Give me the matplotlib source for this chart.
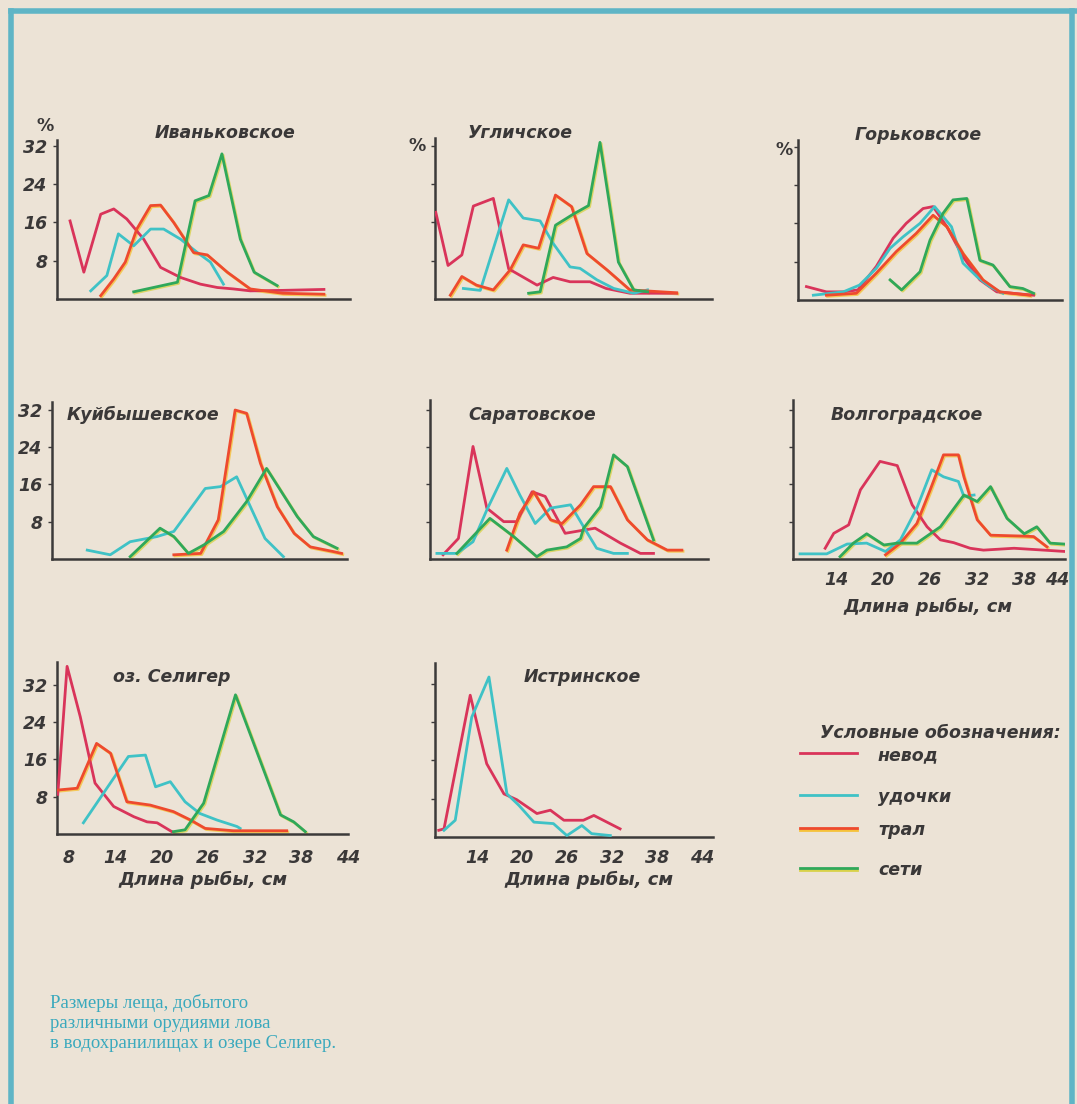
import matplotlib
matplotlib.use("Agg")
import matplotlib.pyplot as plt
from matplotlib.lines import Line2D

W, H = 1077, 1104
BG = "#ece3d6"
FRAME = "#5fb5c6"
AX = "#3c3a3a"
TXT = "#3a3838"

C_NEVOD = "#d9345a"
C_UDOCHKI = "#3fc2c6"
C_TRAL = "#ee4a2e"
C_SETI = "#2fa85a"

# ---------------- data (length, cm ; share, %) ----------------
# Иваньковское
ivan_nevod_x = [8.3, 10.1, 12.3, 14.0, 15.7, 17.9, 20.1, 22.7, 25.3, 27.5, 29.6, 31.8, 36.0, 41.4]
ivan_nevod_y = [16.3, 5.6, 17.7, 18.8, 16.7, 12.5, 6.6, 4.5, 3.1, 2.4, 2.1, 1.7, 1.8, 2.0]
ivan_udochki_x = [11.0, 13.1, 14.6, 16.6, 18.8, 20.5, 22.7, 24.9, 26.6, 28.3]
ivan_udochki_y = [1.7, 4.9, 13.6, 11.1, 14.6, 14.6, 12.5, 9.7, 7.7, 3.1]
ivan_tral_x = [12.3, 14.0, 15.5, 17.0, 18.8, 20.1, 21.8, 24.4, 26.2, 28.8, 31.8, 36.0, 41.4]
ivan_tral_y = [0.7, 4.2, 7.7, 14.6, 19.5, 19.6, 16.0, 9.7, 9.2, 5.6, 2.1, 1.2, 1.0]
ivan_seti_x = [16.6, 22.3, 24.6, 26.4, 28.1, 30.5, 32.3, 35.3]
ivan_seti_y = [1.5, 3.5, 20.5, 21.6, 30.3, 12.5, 5.6, 2.8]

# Угличское
ugl_nevod_x = [6.7, 8.3, 10.1, 11.6, 14.2, 16.2, 19.9, 22.0, 24.2, 26.8, 28.9, 32.0, 38.1]
ugl_nevod_y = [18.1, 7.0, 9.2, 19.4, 21.0, 6.3, 2.9, 4.5, 3.6, 3.6, 2.2, 1.2, 1.2]
ugl_udochki_x = [10.3, 12.5, 16.2, 18.1, 20.3, 22.0, 24.2, 25.5, 27.7, 29.9, 32.5, 34.3]
ugl_udochki_y = [2.2, 1.8, 20.7, 16.9, 16.3, 11.6, 6.7, 6.4, 4.0, 2.2, 1.2, 1.9]
ugl_tral_x = [8.6, 10.1, 12.0, 14.2, 16.4, 18.1, 20.1, 22.3, 24.4, 26.4, 29.0, 32.0, 38.1]
ugl_tral_y = [0.8, 4.7, 2.9, 1.9, 6.1, 11.3, 10.6, 21.7, 19.3, 9.5, 6.1, 1.9, 1.3]
ugl_seti_x = [18.8, 20.3, 22.3, 24.6, 26.6, 28.1, 30.5, 32.5, 34.3]
ugl_seti_y = [1.2, 1.5, 15.4, 17.7, 19.5, 32.7, 7.7, 1.9, 1.5]

# Горьковское
gor_nevod_x = [7.7, 10.3, 12.5, 14.4, 16.8, 19.0, 20.7, 22.9, 24.2, 26.0, 28.1, 30.3, 32.5, 34.6, 37.3]
gor_nevod_y = [2.8, 1.7, 1.7, 2.1, 7.0, 12.9, 16.0, 19.1, 19.5, 15.3, 9.0, 4.2, 1.7, 1.4, 1.0]
gor_udochki_x = [8.6, 12.5, 14.6, 16.8, 18.6, 20.3, 22.5, 24.4, 26.6, 28.1, 29.9, 31.6, 33.3]
gor_udochki_y = [1.0, 1.7, 3.1, 6.6, 10.8, 13.2, 16.0, 19.5, 15.3, 7.7, 4.9, 2.8, 1.4]
gor_tral_x = [10.3, 14.2, 16.8, 19.4, 22.0, 24.2, 26.0, 28.1, 30.7, 32.9, 36.8]
gor_tral_y = [1.0, 1.4, 5.6, 10.1, 13.9, 17.7, 15.3, 9.7, 4.2, 1.7, 1.0]
gor_seti_x = [18.6, 20.1, 22.5, 23.8, 25.5, 26.8, 28.6, 30.3, 32.0, 34.2, 35.9, 37.3]
gor_seti_y = [4.2, 2.1, 5.9, 12.5, 18.1, 20.9, 21.2, 8.3, 7.3, 2.8, 2.4, 1.4]

# Куйбышевское
kuj_udochki_x = [11.2, 14.2, 16.8, 20.3, 22.5, 26.6, 28.6, 30.7, 34.4, 36.8]
kuj_udochki_y = [1.9, 0.9, 3.7, 4.8, 5.9, 15.1, 15.5, 17.6, 4.4, 0.5]
kuj_tral_x = [22.5, 26.0, 28.3, 30.5, 32.0, 33.8, 36.0, 38.2, 40.3, 43.3, 44.4]
kuj_tral_y = [0.9, 1.2, 8.4, 31.9, 31.2, 20.5, 11.2, 5.5, 2.6, 1.6, 1.2]
kuj_seti_x = [16.8, 20.7, 22.5, 24.4, 26.4, 29.0, 32.0, 34.6, 38.6, 40.7, 43.8]
kuj_seti_y = [0.5, 6.6, 4.8, 1.2, 3.0, 5.9, 12.3, 19.4, 9.1, 4.8, 2.3]

# Саратовское
sar_nevod_x = [8.3, 10.3, 12.2, 14.0, 16.2, 17.9, 19.9, 21.6, 24.2, 28.1, 31.4, 34.0, 35.7]
sar_nevod_y = [0.9, 4.4, 24.1, 10.9, 8.0, 8.0, 14.4, 13.4, 5.5, 6.6, 3.4, 1.2, 1.2]
sar_udochki_x = [7.5, 10.1, 12.2, 14.0, 16.6, 18.3, 20.3, 22.3, 24.9, 26.6, 28.3, 30.5, 32.3]
sar_udochki_y = [1.2, 1.2, 3.7, 10.5, 19.4, 13.7, 7.6, 10.9, 11.6, 6.9, 2.3, 1.2, 1.2]
sar_tral_x = [16.6, 18.3, 20.1, 22.3, 23.8, 26.2, 27.9, 30.1, 32.3, 34.9, 37.5, 39.4]
sar_tral_y = [1.9, 9.8, 14.4, 8.4, 7.6, 11.6, 15.5, 15.5, 8.4, 4.1, 1.9, 1.9]
sar_seti_x = [10.1, 14.4, 17.5, 20.5, 21.8, 24.4, 26.2, 26.6, 28.8, 30.5, 32.3, 35.7]
sar_seti_y = [1.2, 8.7, 4.8, 0.5, 1.9, 2.6, 4.4, 6.6, 11.2, 22.3, 19.8, 4.1]

# Волгоградское
vol_nevod_x = [12.6, 13.7, 15.6, 17.1, 19.6, 21.8, 23.7, 25.6, 27.3, 29.0, 31.1, 32.8, 36.7, 40.5, 43.3]
vol_nevod_y = [2.3, 5.5, 7.3, 14.8, 20.9, 20.0, 11.6, 6.9, 4.1, 3.5, 2.3, 1.9, 2.3, 1.9, 1.6]
vol_udochki_x = [9.4, 12.8, 15.4, 17.9, 20.3, 22.2, 24.3, 26.2, 27.7, 29.6, 30.3, 31.6]
vol_udochki_y = [1.1, 1.1, 3.2, 3.4, 1.6, 4.1, 10.9, 19.1, 17.6, 16.6, 13.4, 13.7]
vol_tral_x = [20.3, 22.2, 24.3, 26.0, 27.7, 29.6, 30.3, 32.0, 33.7, 38.0, 39.2, 40.9]
vol_tral_y = [0.9, 3.4, 7.6, 14.8, 22.3, 22.3, 17.6, 8.4, 5.1, 4.9, 4.8, 2.6]
vol_seti_x = [14.5, 16.2, 17.9, 20.1, 21.8, 24.3, 27.3, 30.3, 32.0, 33.7, 35.8, 38.0, 39.6, 41.3, 43.1]
vol_seti_y = [0.5, 3.4, 5.4, 3.0, 3.4, 3.4, 6.9, 13.7, 12.3, 15.5, 8.7, 5.4, 6.9, 3.4, 3.2]

# оз. Селигер
sel_nevod_x = [6.6, 7.8, 9.5, 11.4, 13.8, 16.4, 18.1, 19.4, 21.3]
sel_nevod_y = [8.5, 35.9, 25.1, 10.9, 5.9, 3.7, 2.6, 2.4, 0.5]
sel_udochki_x = [9.9, 15.7, 17.9, 19.2, 21.1, 23.0, 24.9, 27.1, 29.7, 30.1]
sel_udochki_y = [2.4, 16.6, 16.9, 10.1, 11.2, 6.9, 4.4, 3.0, 1.6, 1.2]
sel_tral_x = [6.5, 9.1, 11.6, 13.4, 15.5, 18.5, 21.5, 23.7, 25.6, 29.2, 36.1]
sel_tral_y = [9.4, 9.8, 19.4, 17.3, 6.9, 6.2, 4.8, 3.0, 1.2, 0.7, 0.7]
sel_seti_x = [21.5, 23.0, 25.4, 29.5, 35.3, 37.0, 38.5]
sel_seti_y = [0.5, 0.9, 6.6, 29.8, 4.1, 2.6, 0.5]

# Истринское
ist_nevod_x = [8.9, 9.6, 13.1, 15.3, 17.6, 19.3, 22.0, 23.8, 25.6, 28.2, 29.6, 33.1]
ist_nevod_y = [1.4, 1.7, 29.6, 15.3, 9.0, 7.8, 4.9, 5.6, 3.5, 3.5, 4.5, 1.7]
ist_udochki_x = [9.6, 11.1, 13.3, 15.6, 18.0, 19.6, 21.6, 24.2, 26.0, 28.0, 29.3, 31.8]
ist_udochki_y = [1.4, 3.5, 25.0, 33.4, 9.0, 6.6, 3.1, 2.8, 0.3, 2.4, 0.7, 0.3]

y_ticks = [8, 16, 24, 32]
x_ticks = [8, 14, 20, 26, 32, 38, 44]
x_tick_labels = ["8", "14", "20", "26", "32", "38", "44"]

titles = ["Иваньковское", "Угличское", "Горьковское", "Куйбышевское",
          "Саратовское", "Волгоградское", "оз. Селигер", "Истринское"]
legend_title = "Условные обозначения:"
legend_labels = ["невод", "удочки", "трал", "сети"]
x_label = "Длина рыбы, см"

panels = [
    dict(name=titles[0], box=(57, 299, 350, 140), xlim=(6.6, 44.8), ppu=4.79,
         series=[(ivan_nevod_x, ivan_nevod_y, "nevod"), (ivan_udochki_x, ivan_udochki_y, "udochki"),
                 (ivan_tral_x, ivan_tral_y, "tral"), (ivan_seti_x, ivan_seti_y, "seti")],
         ylab=True, pct=(45, 126), tpos=(225, 133), xt=None),
    dict(name=titles[1], box=(435, 299, 712, 138), xlim=(6.6, 42.7), ppu=4.79,
         series=[(ugl_nevod_x, ugl_nevod_y, "nevod"), (ugl_udochki_x, ugl_udochki_y, "udochki"),
                 (ugl_tral_x, ugl_tral_y, "tral"), (ugl_seti_x, ugl_seti_y, "seti")],
         ylab=False, pct=(417, 146), tpos=(520, 133), xt=None),
    dict(name=titles[2], box=(798, 300, 1062, 140), xlim=(6.6, 41.0), ppu=4.79,
         series=[(gor_nevod_x, gor_nevod_y, "nevod"), (gor_udochki_x, gor_udochki_y, "udochki"),
                 (gor_tral_x, gor_tral_y, "tral"), (gor_seti_x, gor_seti_y, "seti")],
         ylab=False, pct=(784, 150), tpos=(918, 135), xt=None),
    dict(name=titles[3], box=(52, 559, 347, 402), xlim=(6.6, 45.1), ppu=4.67,
         series=[(kuj_udochki_x, kuj_udochki_y, "udochki"),
                 (kuj_tral_x, kuj_tral_y, "tral"), (kuj_seti_x, kuj_seti_y, "seti")],
         ylab=True, pct=None, tpos=(143, 415), xt=None),
    dict(name=titles[4], box=(430, 559, 708, 400), xlim=(6.6, 42.8), ppu=4.67,
         series=[(sar_nevod_x, sar_nevod_y, "nevod"), (sar_udochki_x, sar_udochki_y, "udochki"),
                 (sar_tral_x, sar_tral_y, "tral"), (sar_seti_x, sar_seti_y, "seti")],
         ylab=False, pct=None, tpos=(532, 415), xt=None),
    dict(name=titles[5], box=(793, 559, 1065, 400), xlim=(8.5, 43.2), ppu=4.67,
         series=[(vol_nevod_x, vol_nevod_y, "nevod"), (vol_udochki_x, vol_udochki_y, "udochki"),
                 (vol_tral_x, vol_tral_y, "tral"), (vol_seti_x, vol_seti_y, "seti")],
         ylab=False, pct=None, tpos=(907, 415), xt=(1, 580, 607, 928)),
    dict(name=titles[6], box=(57, 834, 348, 662), xlim=(6.5, 44.0), ppu=4.67,
         series=[(sel_nevod_x, sel_nevod_y, "nevod"), (sel_udochki_x, sel_udochki_y, "udochki"),
                 (sel_tral_x, sel_tral_y, "tral"), (sel_seti_x, sel_seti_y, "seti")],
         ylab=True, pct=None, tpos=(172, 677), xt=(0, 858, 880, 203)),
    dict(name=titles[7], box=(435, 837, 713, 663), xlim=(8.4, 45.5), ppu=4.79,
         series=[(ist_nevod_x, ist_nevod_y, "nevod"), (ist_udochki_x, ist_udochki_y, "udochki")],
         ylab=False, pct=None, tpos=(582, 677), xt=(1, 858, 880, 589)),
]

styles = {
    "nevod": dict(color=C_NEVOD, shadow=None),
    "udochki": dict(color=C_UDOCHKI, shadow=None),
    "tral": dict(color=C_TRAL, shadow="#f6c23a"),
    "seti": dict(color=C_SETI, shadow="#d8d24a"),
}

fig = plt.figure(figsize=(W / 100, H / 100), dpi=100)
fig.patch.set_facecolor(BG)

TFONT = dict(family="DejaVu Sans", style="italic", weight="bold")


def fx(px):
    return px / W


def fy(py):
    return 1 - py / H


for p in panels:
    left, base, right, top = p["box"]
    ylim_top = (base - top) / p["ppu"]
    ax = fig.add_axes([fx(left), fy(base), (right - left) / W, (base - top) / H])
    ax.set_facecolor("none")
    ax.set_xlim(*p["xlim"])
    ax.set_ylim(0, ylim_top)
    for s in ["top", "right"]:
        ax.spines[s].set_visible(False)
    for s in ["left", "bottom"]:
        ax.spines[s].set_color(AX)
        ax.spines[s].set_linewidth(1.8)
    for xs, ys, kind in p["series"]:
        st = styles[kind]
        if st["shadow"]:
            ax.plot([x + 0.15 for x in xs], [y - 0.25 for y in ys], color=st["shadow"],
                    lw=2.0, solid_joinstyle="round", alpha=0.8, zorder=2)
        ax.plot(xs, ys, color=st["color"], lw=2.0, solid_joinstyle="round", zorder=3)
    ax.set_yticks(y_ticks)
    ax.tick_params(axis="y", length=3, width=1, color=AX, direction="out", pad=4)
    if p["ylab"]:
        ax.set_yticklabels([str(t) for t in y_ticks], fontsize=12.5, color=TXT,
                           style="italic", weight="bold")
    else:
        ax.set_yticklabels([])
    ax.set_xticks([])
    if p["xt"] is not None:
        start, ly, xly, xlx = p["xt"]
        for t, lab in zip(x_ticks[start:], x_tick_labels[start:]):
            xpix = left + (t - p["xlim"][0]) / (p["xlim"][1] - p["xlim"][0]) * (right - left)
            xpix = min(xpix, W - 20)
            fig.text(fx(xpix), fy(ly), lab, ha="center", va="center", fontsize=12.5,
                     color=TXT, **TFONT)
        fig.text(fx(xlx), fy(xly), x_label, ha="center",
                 va="center", fontsize=13, color=TXT, **TFONT)
    if p["pct"] is not None:
        fig.text(fx(p["pct"][0]), fy(p["pct"][1]), "%", ha="center", va="center",
                 fontsize=12.5, color=TXT, weight="bold")
    fig.text(fx(p["tpos"][0]), fy(p["tpos"][1]), p["name"], ha="center", va="center",
             fontsize=12.5, color=TXT, **TFONT)

# legend
fig.text(fx(940), fy(733), legend_title, ha="center", va="center",
         fontsize=12.5, color=TXT, **TFONT)
leg_y = [753, 795, 828, 868]
leg_kinds = ["nevod", "udochki", "tral", "seti"]
for yy, kind, lab in zip(leg_y, leg_kinds, legend_labels):
    st = styles[kind]
    if st["shadow"]:
        fig.add_artist(Line2D([fx(800), fx(857)], [fy(yy + 2), fy(yy + 2)],
                              color=st["shadow"], lw=2.0, transform=fig.transFigure))
    fig.add_artist(Line2D([fx(800), fx(857)], [fy(yy), fy(yy)], color=st["color"],
                          lw=2.0, transform=fig.transFigure))
    fig.text(fx(878), fy(yy + 2), lab, ha="left", va="center", fontsize=12.5,
             color=TXT, **TFONT)

# caption
caption = ["Размеры леща, добытого", "различными орудиями лова",
           "в водохранилищах и озере Селигер."]
for i, line in enumerate(caption):
    fig.text(fx(50), fy(1003 + i * 20), line, ha="left", va="center", fontsize=13.5,
             color="#3aa9bd", family="Liberation Serif")

# frame
fig.add_artist(Line2D([fx(11), fx(11)], [fy(1104), fy(11)], color=FRAME, lw=4,
                      transform=fig.transFigure))
fig.add_artist(Line2D([fx(11), fx(1077)], [fy(11), fy(11)], color=FRAME, lw=4,
                      transform=fig.transFigure))
fig.add_artist(Line2D([fx(1072), fx(1072)], [fy(11), fy(1104)], color=FRAME, lw=4,
                      transform=fig.transFigure))

fig.savefig("out.png", dpi=100, facecolor=BG)
